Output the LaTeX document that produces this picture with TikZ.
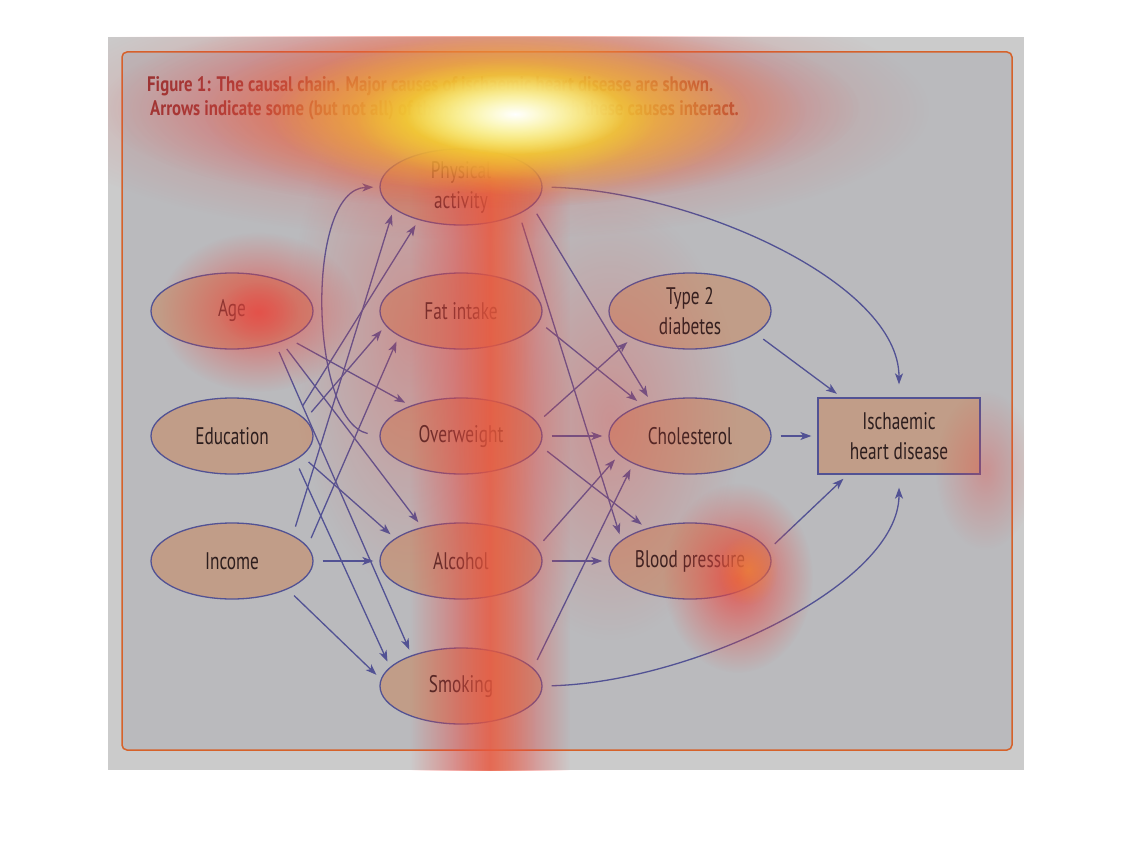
\documentclass[tikz,border=0pt]{standalone}
\usepackage{fontspec}
\setmainfont{PT Sans}[FakeStretch=0.72]
\newfontfamily\titlefont{PT Sans}[FakeStretch=0.80]
\usetikzlibrary{arrows.meta,shapes.geometric,fadings}

\definecolor{panelgray}{RGB}{186,186,189}
\definecolor{framegray}{RGB}{203,203,203}
\definecolor{frameorange}{RGB}{214,98,42}
\definecolor{peach}{RGB}{193,157,136}
\definecolor{linkblue}{RGB}{82,82,148}
\definecolor{inkdark}{RGB}{45,30,30}
\definecolor{titlered}{RGB}{140,48,48}
\definecolor{heatred}{RGB}{232,72,66}
\definecolor{heatorange}{RGB}{240,140,50}
\definecolor{heatyellow}{RGB}{246,240,50}

\tikzfading[name=hotspot, inner color=transparent!0, outer color=transparent!100]
\tikzfading[name=hotband, left color=transparent!100, right color=transparent!100, middle color=transparent!0]

\begin{document}
\begin{tikzpicture}[x=1pt,y=-1pt,
    cause/.style={ellipse,draw=linkblue,line width=1.3pt,fill=peach,
        minimum width=162pt,minimum height=76pt,inner sep=0pt,align=center,
        text=inkdark,font=\fontsize{24}{30}\selectfont},
    outcome/.style={cause,rectangle},
    link/.style={draw=linkblue,line width=1.3pt,
        -{Stealth[length=11pt,width=8pt,inset=3pt]},shorten <=9pt,shorten >=6pt},
    heat/.style={path fading=hotspot,opacity=#1}
]
\useasboundingbox (0,0) rectangle (1134,864);
\fill[framegray] (108,37) rectangle (1024,770);
\draw[frameorange,line width=1.5pt,fill=panelgray,rounded corners=5pt] (122,52) rectangle (1012,750);

\node[anchor=north west,inner sep=0pt,align=left,text=titlered,
    font=\titlefont\bfseries\fontsize{21}{24}\selectfont] (title) at (147,76)
    {Figure 1: The causal chain. Major causes of ischaemic heart disease are shown.\\
     \hspace{3pt}Arrows indicate some (but not all) of the pathways by which these causes interact.};

% causes
\foreach \n/\t/\y in {age/Age/311,edu/Education/436,inc/Income/561}
    \node[cause] (\n) at (232,\y) {\t};
\foreach \n/\t/\y in {pa/{Physical\\activity}/187,fat/Fat intake/311,ow/Overweight/436,alc/Alcohol/561,smk/Smoking/686}
    \node[cause] (\n) at (461,\y) {\t};
\foreach \n/\t/\y in {t2/{Type 2\\diabetes}/311,chol/Cholesterol/436,bp/Blood pressure/561}
    \node[cause] (\n) at (690,\y) {\t};
\node[outcome] (ihd) at (899,436) {Ischaemic\\heart disease};

% pathways
\foreach \a/\b in {age.-26/ow.149,age.-32/alc.139,age.-37/smk.148,
        edu.19/pa.218,edu.13/fat.191,edu.-16/alc.161,edu.-21/smk.165,
        inc.23/pa.198,inc.11/fat.202,inc.0/alc.180,inc.-27/smk.175,
        pa.-15/chol.139,pa.-25/bp.163,fat.-8/chol.147,
        ow.10/t2.205,ow.0/chol.180,ow.-7/bp.143,
        alc.10/chol.195,alc.0/bp.180,smk.14/chol.206,
        t2.-19/ihd.146,chol.0/ihd.180,bp.8/ihd.217}
    \draw[link] (\a) -- (\b);
\draw[link,shorten <=12pt] (ow.west) .. controls +(-70,-15) and +(-75,2) .. (pa.west);
\draw[link,shorten >=13pt] (pa.east) .. controls +(150,4) and +(0,-115) .. (ihd.north);
\draw[link,shorten >=13pt] (smk.east) .. controls +(150,-4) and +(0,110) .. (ihd.south);

% gaze heat
\begin{scope}
\clip (108,37) rectangle (1024,770);
\fill[heatred,heat=.35] (410,330) ellipse (120 and 260);
\fill[heatred,heat=.35] (610,420) ellipse (130 and 220);
\fill[heatred,heat=.5] (480,110) ellipse (450 and 130);
\fill[heatred,path fading=hotband,opacity=.8] (410,120) rectangle (570,800);
\fill[heatorange,path fading=hotband,opacity=.22] (455,120) rectangle (535,800);
\fill[heatred,heat=.85] (480,108) ellipse (380 and 100);
\fill[heatorange,heat=.85] (505,112) ellipse (300 and 95);
\fill[heatyellow,heat=.95] (510,114) ellipse (240 and 80);
\fill[heatyellow,heat=.7] (505,120) ellipse (150 and 60);
\fill[white,heat=1] (515,114) ellipse (110 and 40);
\fill[heatred,heat=.8] (258,312) ellipse (100 and 80);
\fill[heatred,heat=.4] (258,312) ellipse (40 and 30);
\fill[heatred,heat=.85] (738,578) ellipse (75 and 95);
\fill[heatorange,heat=.6] (748,570) ellipse (30 and 35);
\fill[heatred,heat=.35] (985,470) ellipse (50 and 80);
\end{scope}
\end{tikzpicture}
\end{document}
